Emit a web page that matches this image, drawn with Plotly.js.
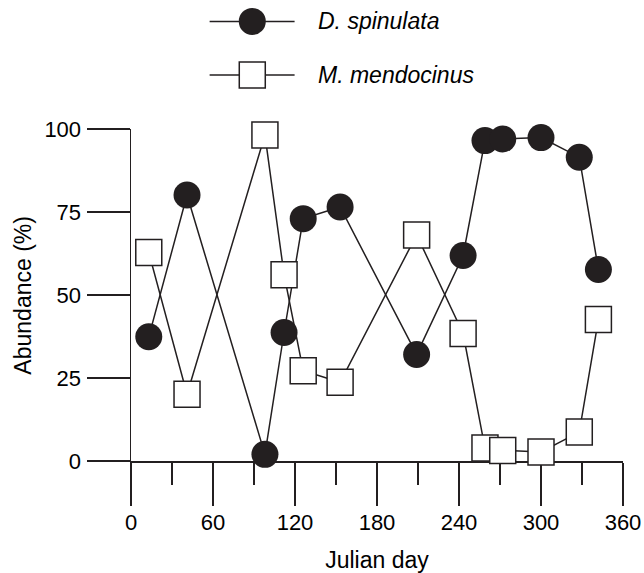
<!DOCTYPE html>
<html>
<head>
<meta charset="utf-8">
<script src="https://cdn.plot.ly/plotly-3.0.1.min.js"></script>
<style>html,body{margin:0;padding:0;background:#fff;}#chart{width:644px;height:573px;}</style>
</head>
<body>
<div id="chart"></div>
<script>
// Data
const daysD = [13, 41, 98, 112, 126, 153, 209, 243, 259, 272, 300, 328, 342];
const spinulata = [37.4, 80.1, 2.0, 38.7, 73.0, 76.5, 32.1, 61.9, 96.5, 97.0, 97.4, 91.5, 57.7];
const daysM = [13, 41, 98, 112, 126, 153, 209, 243, 259, 272, 300, 328, 342];
const mendocinus = [62.8, 20.1, 98.2, 56.1, 27.2, 23.7, 68.1, 38.4, 3.9, 3.2, 2.7, 8.7, 42.6];
const seriesNames = ["D. spinulata", "M. mendocinus"];
const xTickVals = [0, 60, 120, 180, 240, 300, 360];
const yTickVals = [0, 25, 50, 75, 100];
const xTitle = "Julian day";
const yTitle = "Abundance (%)";

const ink = "#231f20";
const font = "Liberation Sans, Arial, Helvetica, sans-serif";

// helper-axis positions for the hand-drawn legend
const legLineX = [0.1598, 0.3325];
const legMarkX = [0.2465];
const legRowY = [0.85, 0.36];
const legTextX = 0.377;

const circleMarker = {symbol: "circle", size: 27, color: ink, opacity: 1, line: {width: 0}};
const squareMarker = {symbol: "square", size: 26, color: "#ffffff", opacity: 1, line: {width: 1.5, color: ink}};

const traces = [
  {
    x: daysD, y: spinulata, type: "scatter", mode: "lines+markers",
    name: seriesNames[0], cliponaxis: false, showlegend: false,
    line: {color: ink, width: 1.5}, marker: circleMarker
  },
  {
    x: daysM, y: mendocinus, type: "scatter", mode: "lines+markers",
    name: seriesNames[1], cliponaxis: false, showlegend: false,
    line: {color: ink, width: 1.5}, marker: squareMarker
  },
  // legend sample lines
  {x: legLineX, y: [legRowY[0], legRowY[0]], xaxis: "x2", yaxis: "y2", type: "scatter", mode: "lines",
   showlegend: false, cliponaxis: false, line: {color: ink, width: 1.5}},
  {x: legLineX, y: [legRowY[1], legRowY[1]], xaxis: "x2", yaxis: "y2", type: "scatter", mode: "lines",
   showlegend: false, cliponaxis: false, line: {color: ink, width: 1.5}},
  // legend sample markers
  {x: legMarkX, y: [legRowY[0]], xaxis: "x2", yaxis: "y2", type: "scatter", mode: "markers",
   showlegend: false, cliponaxis: false, marker: circleMarker},
  {x: legMarkX, y: [legRowY[1]], xaxis: "x2", yaxis: "y2", type: "scatter", mode: "markers",
   showlegend: false, cliponaxis: false, marker: squareMarker}
];

const layout = {
  width: 644, height: 573,
  margin: {l: 131.4, r: 20.6, t: 5, b: 112},
  paper_bgcolor: "#fff", plot_bgcolor: "#fff",
  font: {family: font, size: 23, color: "#000"},
  showlegend: false,
  xaxis: {
    range: [0, 360], domain: [0, 1], anchor: "y",
    showgrid: false, zeroline: false,
    showline: true, linecolor: ink, linewidth: 1.5,
    ticks: "outside", tickvals: xTickVals, ticklen: 43, tickwidth: 1.5, tickcolor: ink,
    ticklabelstandoff: -2,
    tickfont: {family: font, size: 22, color: "#000"},
    minor: {dtick: 30, tick0: 0, ticks: "outside", ticklen: 22, tickwidth: 1.5, tickcolor: ink, showgrid: false},
    layer: "below traces",
    title: {text: xTitle, font: {family: font, size: 23, color: "#000"}, standoff: 18}
  },
  yaxis: {
    range: [0, 100], domain: [0, 0.7281], anchor: "x",
    showgrid: false, zeroline: false,
    showline: true, linecolor: ink, linewidth: 1.5,
    ticks: "outside", tickvals: yTickVals, ticklen: 43, tickwidth: 1.5, tickcolor: ink,
    ticklabelstandoff: 1,
    tickfont: {family: font, size: 22, color: "#000"},
    layer: "below traces"
  },
  xaxis2: {range: [0, 1], domain: [0, 1], anchor: "y2", visible: false, fixedrange: true},
  yaxis2: {range: [0, 1], domain: [0.76, 1], anchor: "x2", visible: false, fixedrange: true},
  annotations: [
    {x: -0.2203, y: 0.364, xref: "paper", yref: "paper", xanchor: "center", yanchor: "middle", showarrow: false,
     textangle: -90, text: yTitle, font: {family: font, size: 23, color: "#000"}},
    {x: legTextX, y: legRowY[0], xref: "x2", yref: "y2", xanchor: "left", yanchor: "middle", showarrow: false,
     text: "<i>" + seriesNames[0] + "</i>", font: {family: font, size: 23, color: "#000"}},
    {x: legTextX, y: legRowY[1], xref: "x2", yref: "y2", xanchor: "left", yanchor: "middle", showarrow: false,
     text: "<i>" + seriesNames[1] + "</i>", font: {family: font, size: 23, color: "#000"}}
  ]
};

Plotly.newPlot("chart", traces, layout, {displayModeBar: false, staticPlot: true});
</script>
</body>
</html>
